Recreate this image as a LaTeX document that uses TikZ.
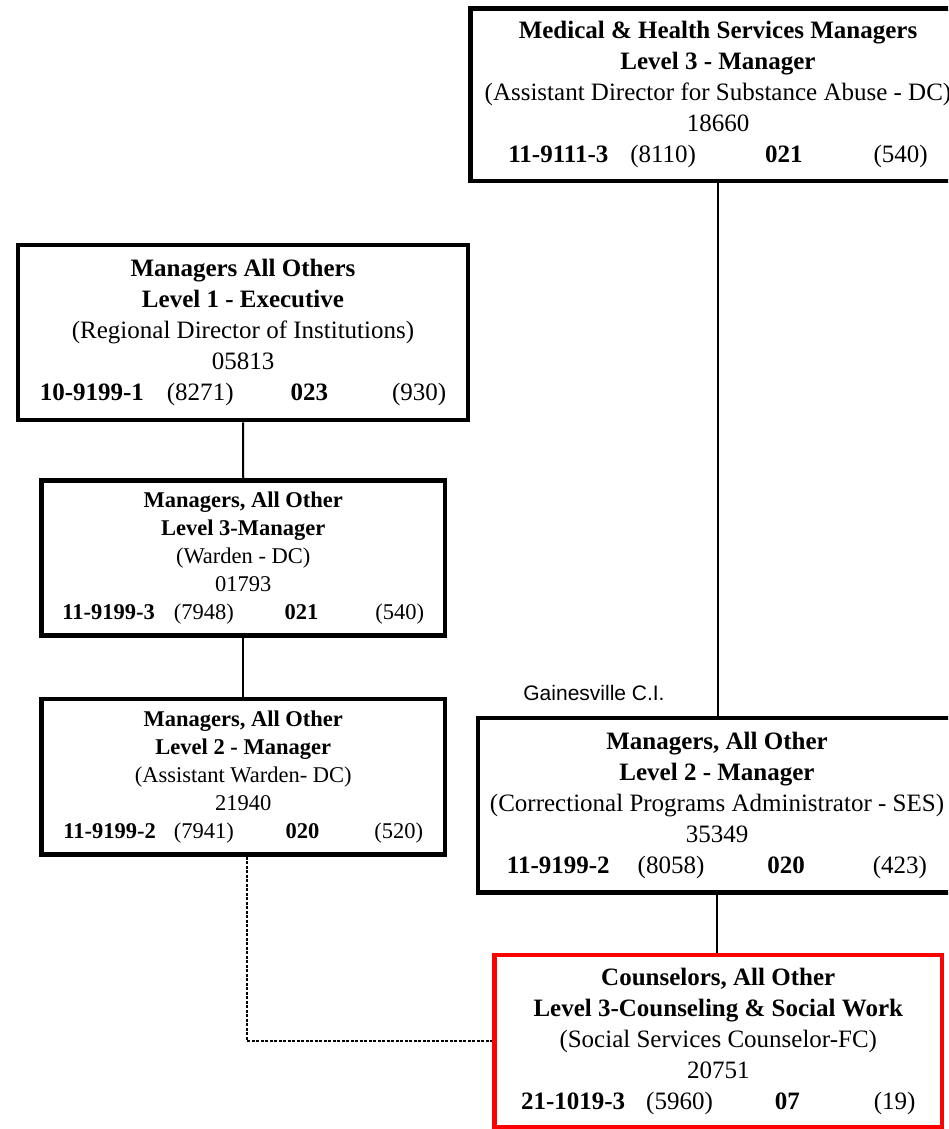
\documentclass[tikz,border=0pt]{standalone}
\usepackage{fontspec}
\setmainfont{Liberation Serif}
\newfontfamily\arialfont{Liberation Sans}
\definecolor{boxEdge}{HTML}{000000}
\definecolor{focusRed}{HTML}{FF0000}

% code row: bold code, (number), bold grade, (number), then the gaps and a trailing pad
\newcommand{\coderow}[8]{\textbf{#1}\hspace{#5pt}(#2)\hspace{#6pt}\textbf{#3}\hspace{#7pt}(#4)\hspace{#8pt}}

\begin{document}
\begin{tikzpicture}[x=1pt, y=-1pt]

\useasboundingbox (0,0) rectangle (948,1129);
\clip (0,0) rectangle (948,1129);

\tikzset{
  bigbox/.style={draw=boxEdge, line width=4.5pt, fill=white, align=center,
                 inner sep=0pt, font=\rmfamily\fontsize{25}{31}\selectfont},
  smallbox/.style={bigbox, font=\rmfamily\fontsize{22.5}{28}\selectfont},
  redbox/.style={bigbox, draw=focusRed, line width=4.2pt},
  link/.style={boxEdge, line width=2pt},
  dotlink/.style={boxEdge, line width=2pt, dash pattern=on 3pt off 1.5pt},
}

% top right
\node[bigbox, minimum width=495pt, minimum height=172.5pt] (medmgr) at (718,94.75)
  {\textbf{Medical \& Health Services Managers}\\
   \textbf{Level 3 - Manager}\\
   (Assistant Director for Substance Abuse - DC)\\
   18660\\
   \coderow{11-9111-3}{8110}{021}{540}{22}{69}{71}{31}};

% left column
\node[bigbox, minimum width=450pt, minimum height=175pt] (regdir) at (243,332.5)
  {\textbf{Managers All Others}\\
   \textbf{Level 1 - Executive}\\
   (Regional Director of Institutions)\\
   05813\\
   \coderow{10-9199-1}{8271}{023}{930}{23}{57}{64}{26}};

\node[smallbox, minimum width=403.5pt, minimum height=155pt] (warden) at (243.25,558)
  {\textbf{Managers, All Other}\\
   \textbf{Level 3-Manager}\\
   (Warden - DC)\\
   01793\\
   \coderow{11-9199-3}{7948}{021}{540}{19}{51}{57}{24}};

\node[smallbox, minimum width=403.5pt, minimum height=155.5pt] (astwarden) at (243.25,776.75)
  {\textbf{Managers, All Other}\\
   \textbf{Level 2 - Manager}\\
   (Assistant Warden- DC)\\
   21940\\
   \coderow{11-9199-2}{7941}{020}{520}{18}{52}{55}{23}};

% right column
\node[font=\arialfont\fontsize{21}{25}\selectfont] (site) at (594,693) {Gainesville C.I.};

\node[bigbox, minimum width=478pt, minimum height=174.5pt] (corrmgr) at (717,805.25)
  {\textbf{Managers, All Other}\\
   \textbf{Level 2 - Manager}\\
   (Correctional Programs Administrator - SES)\\
   35349\\
   \coderow{11-9199-2}{8058}{020}{423}{28}{63}{68}{24}};

\node[redbox, minimum width=447.5pt, minimum height=172.5pt] (counselor) at (718.25,1041.25)
  {\textbf{Counselors, All Other}\\
   \textbf{Level 3-Counseling \& Social Work}\\
   (Social Services Counselor-FC)\\
   20751\\
   \coderow{21-1019-3}{5960}{07}{19}{21}{62}{74}{33}};

% links
\draw[link] (medmgr.south) -- (medmgr.south |- corrmgr.north);
\draw[link] (regdir.south) -- (warden.north);
\draw[link] (warden.south) -- (astwarden.north);
\draw[link] (corrmgr.south) -- (corrmgr.south |- counselor.north);
\draw[dotlink] ([xshift=4pt]astwarden.south) |- (counselor.west);

\end{tikzpicture}
\end{document}
